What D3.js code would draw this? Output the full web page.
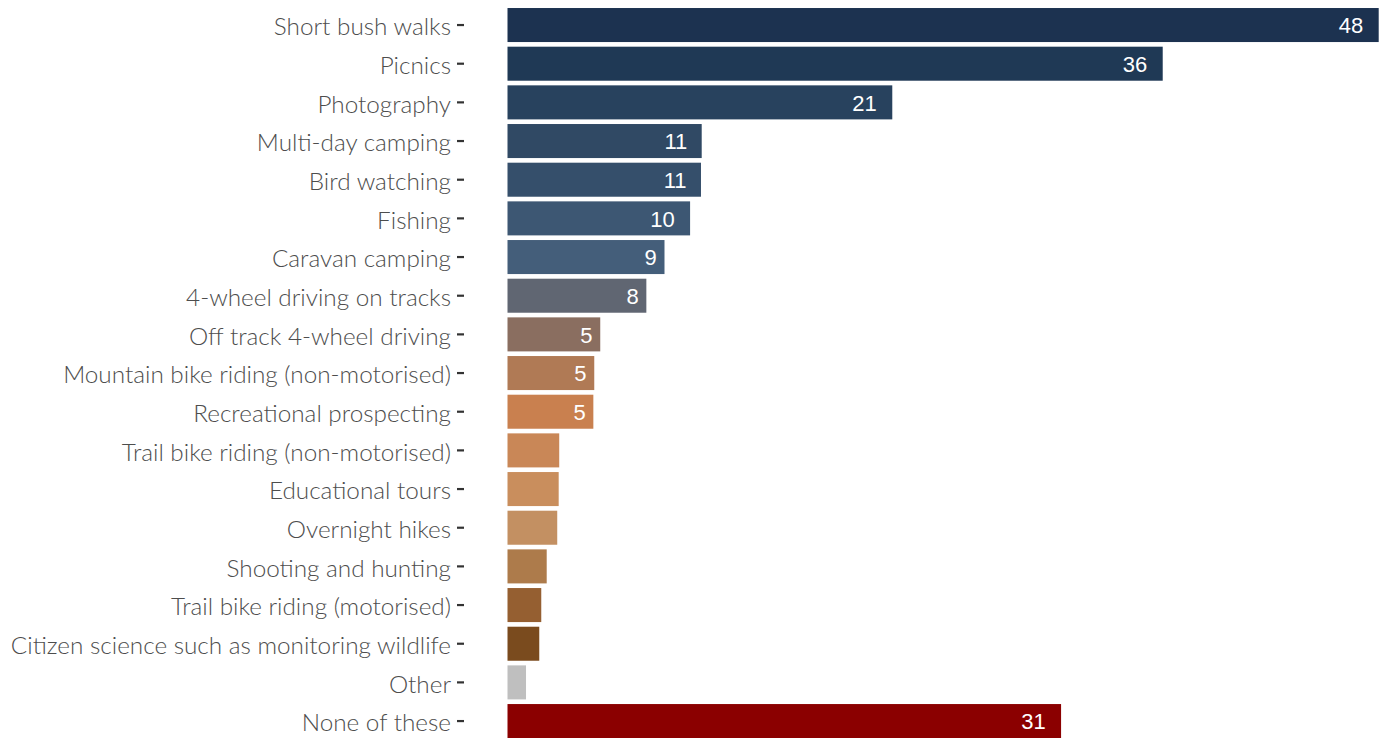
<!DOCTYPE html>
<html>
<head>
<meta charset="utf-8">
<script src="https://cdn.jsdelivr.net/npm/d3@7"></script>
<style>
  html, body { margin: 0; padding: 0; background: #ffffff; }
  svg { display: block; }
</style>
</head>
<body>
<svg id="chart" width="1387" height="738"></svg>
<script>
// Activities, share of respondents (%)
const activities = [
  "Short bush walks",
  "Picnics",
  "Photography",
  "Multi-day camping",
  "Bird watching",
  "Fishing",
  "Caravan camping",
  "4-wheel driving on tracks",
  "Off track 4-wheel driving",
  "Mountain bike riding (non-motorised)",
  "Recreational prospecting",
  "Trail bike riding (non-motorised)",
  "Educational tours",
  "Overnight hikes",
  "Shooting and hunting",
  "Trail bike riding (motorised)",
  "Citizen science such as monitoring wildlife",
  "Other",
  "None of these"
];

const shares = [
  48.0, 36.1, 21.2, 10.7, 10.66, 10.06, 8.65, 7.65, 5.11, 4.78,
  4.73, 2.85, 2.82, 2.74, 2.16, 1.86, 1.75, 1.02, 30.5
];

const barColours = [
  "#1c3250", "#1f3955", "#28425e", "#304964", "#354f6b", "#3d5773",
  "#445e7a", "#606672", "#8a6e60", "#b07a55", "#c9804f", "#c98757",
  "#c98e5d", "#c39062", "#ad7b4b", "#955f31", "#7a4b1e", "#bfbfbf",
  "#8b0000"
];

// Only bars of at least this size carry a value label
const labelThreshold = 4.5;

const data = activities.map((name, i) => ({ name, value: shares[i], colour: barColours[i] }));

const svg = d3.select("#chart");

const x = d3.scaleLinear()
  .domain([0, d3.max(shares)])
  .range([507.5, 1378.7]);

const y = d3.scaleBand()
  .domain(activities)
  .range([5.7, 740.4])
  .paddingInner(0.12)
  .paddingOuter(0.06);

// Category axis
const yAxis = d3.axisLeft(y).tickSize(7).tickPadding(6);
const axisG = svg.append("g")
  .attr("transform", "translate(464,0)")
  .call(yAxis);
axisG.select(".domain").remove();
axisG.selectAll(".tick line")
  .attr("stroke", "#333333")
  .attr("stroke-width", 2.2);
axisG.selectAll(".tick text")
  .attr("fill", "#4d4d4d")
  .attr("dy", "0.42em")
  .style("font-family", "Lato, 'Open Sans', sans-serif")
  .style("font-weight", 300)
  .style("font-size", "24.3px");

// Bars
svg.append("g")
  .selectAll("rect")
  .data(data)
  .join("rect")
  .attr("x", x(0))
  .attr("y", d => y(d.name))
  .attr("width", d => x(d.value) - x(0))
  .attr("height", y.bandwidth())
  .attr("fill", d => d.colour);

// Value labels inside the bars
const fmt = d3.format(".0f");
const labels = svg.append("g")
  .selectAll("text")
  .data(data.filter(d => d.value >= labelThreshold))
  .join("text")
  .attr("y", d => y(d.name) + y.bandwidth() / 2)
  .attr("dy", "0.37em")
  .attr("text-anchor", "end")
  .attr("fill", "#ffffff")
  .style("font-family", "'Liberation Sans', Arial, sans-serif")
  .style("font-size", "22px")
  .text(d => fmt(d.value));

labels.each(function (d) {
  const w = this.getComputedTextLength();
  d3.select(this).attr("x", x(d.value) - 0.63 * w);
});
</script>
</body>
</html>
